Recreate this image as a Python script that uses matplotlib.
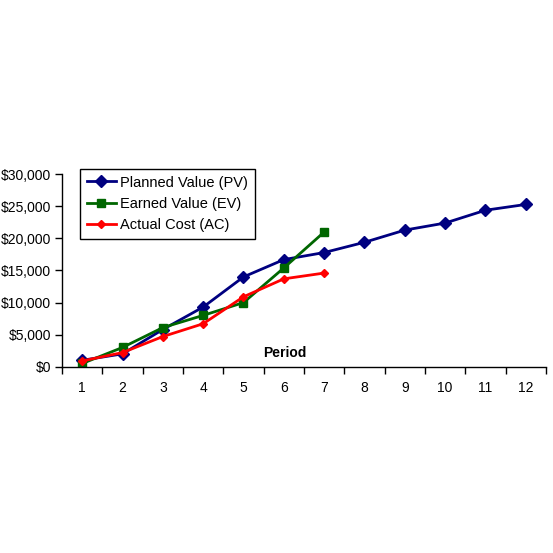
import matplotlib
matplotlib.use("Agg")
import matplotlib.pyplot as plt
from matplotlib.ticker import FuncFormatter, FixedLocator

plt.rcParams['font.family'] = ['Liberation Sans', 'DejaVu Sans']

periods = list(range(1, 13))
pv = [1000, 2000, 5800, 9300, 14000, 16700, 17800, 19400, 21300, 22400, 24400, 25300]
ev = [500, 3000, 6100, 8000, 10000, 15400, 21000]
ac = [900, 2200, 4700, 6700, 10900, 13700, 14600]

fig = plt.figure(figsize=(5.53, 5.53), dpi=100)
ax = fig.add_axes([62/553, 1-366.7/553, 484/553, 192.4/553])

ax.plot(periods, pv, color='#000080', marker='D', markersize=6, linewidth=2, label='Planned Value (PV)')
ax.plot(periods[:len(ev)], ev, color='#006600', marker='s', markersize=5.5, linewidth=2, label='Earned Value (EV)')
ax.plot(periods[:len(ac)], ac, color='#FF0000', marker='D', markersize=4, linewidth=2, label='Actual Cost (AC)')

ax.set_xlim(0.5, 12.5)
ax.set_ylim(0, 30000)
ax.set_yticks(range(0, 30001, 5000))
ax.yaxis.set_major_formatter(FuncFormatter(lambda v, p: f"${int(v):,}"))

ax.xaxis.set_major_locator(FixedLocator([i + 0.5 for i in range(0, 13)]))
ax.xaxis.set_minor_locator(FixedLocator(periods))
ax.set_xticklabels([])
ax.set_xticklabels([str(p) for p in periods], minor=True)
ax.tick_params(axis='x', which='major', length=5, width=1, direction='out')
ax.tick_params(axis='x', which='minor', length=0, pad=10, labelsize=10)
ax.tick_params(axis='y', length=5, width=1, direction='out', labelsize=10, pad=3)

for s in ['top', 'right']:
    ax.spines[s].set_visible(False)
for s in ['left', 'bottom']:
    ax.spines[s].set_linewidth(1)
    ax.spines[s].set_color('black')

ax.text(0.46, 0.035, 'Period', transform=ax.transAxes, ha='center', va='bottom',
        fontsize=10, fontweight='bold')

leg = ax.legend(loc='upper left', bbox_to_anchor=(80/553, 1-169/553), bbox_transform=fig.transFigure,
                fontsize=10.5, frameon=True, fancybox=False, framealpha=1, edgecolor='black',
                handlelength=2.0, handletextpad=0.3, borderpad=0.45, labelspacing=0.5, borderaxespad=0)
leg.get_frame().set_linewidth(1)

fig.savefig('out.png', dpi=100)
